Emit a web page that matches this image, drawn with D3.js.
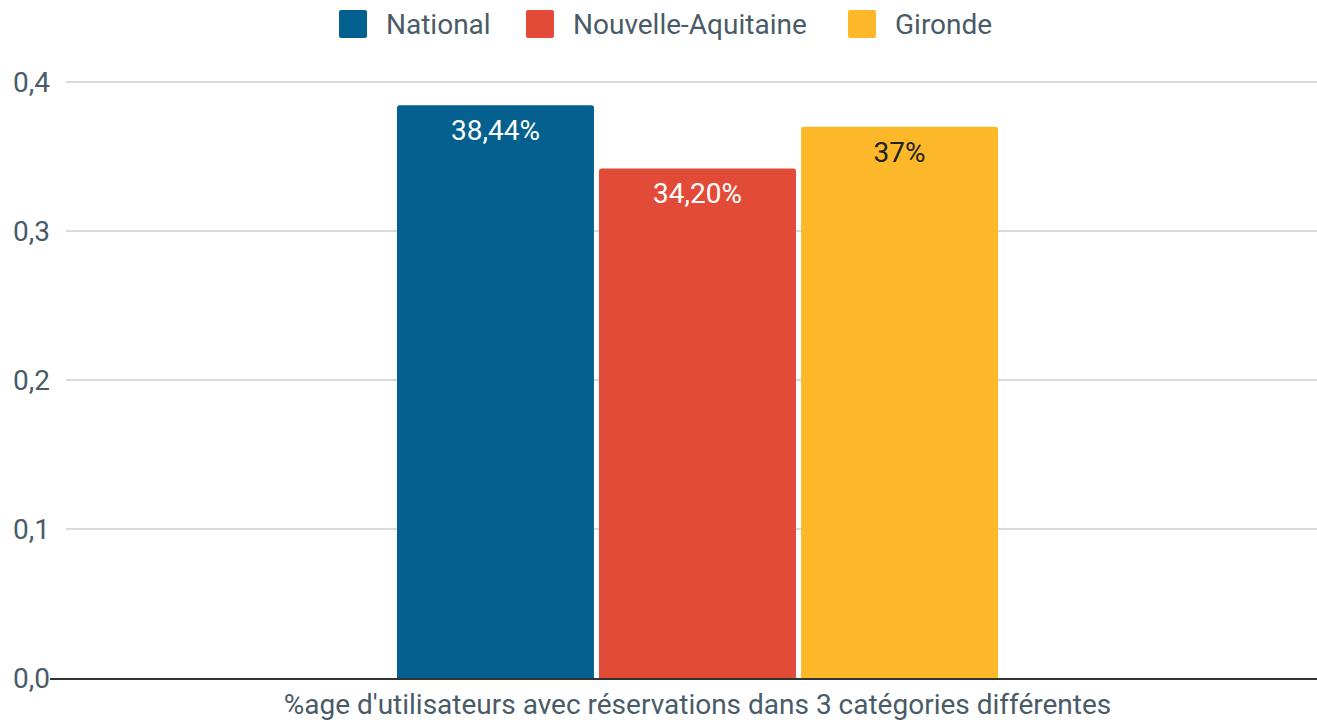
<!DOCTYPE html>
<html lang="fr">
<head>
<meta charset="UTF-8">
<title>Réservations</title>
<script src="https://cdn.jsdelivr.net/npm/d3@7"></script>
<style>
  body { margin: 0; background: #fff; }
  text { font-family: Roboto, sans-serif; }
</style>
</head>
<body>
<script>
// data
var series = ['National', 'Nouvelle-Aquitaine', 'Gironde'];
var values = [0.3844, 0.342, 0.37];
var labels = ['38,44%', '34,20%', '37%'];
var colors = ['#03608f', '#e24b37', '#fdb829'];
var labelColors = ['#ffffff', '#ffffff', '#222222'];
var category = "%age d'utilisateurs avec réservations dans 3 catégories différentes";
var yTicks = [0, 0.1, 0.2, 0.3, 0.4];

var W = 1317, H = 720;
var margin = {top: 82, right: 0, bottom: 42, left: 66};
var width = W - margin.left - margin.right,
    height = H - margin.top - margin.bottom;
var textColor = '#4a5b68';
var fs = '28px';

var svg = d3.select('body').append('svg')
  .attr('width', W)
  .attr('height', H);

var g = svg.append('g')
  .attr('transform', 'translate(' + margin.left + ',' + margin.top + ')');

var y = d3.scaleLinear().domain([0, 0.4]).range([height, 0]);

var x0 = d3.scaleBand().domain([category]).range([0, width + 12]).paddingInner(0).paddingOuter(0.5507);
var x1 = d3.scaleBand().domain(series).range([0, x0.bandwidth()]).paddingInner(0.025);

// gridlines
g.selectAll('.grid')
  .data(yTicks.slice(1))
  .enter().append('line')
  .attr('x1', 0).attr('x2', width)
  .attr('y1', function(d) { return y(d); })
  .attr('y2', function(d) { return y(d); })
  .attr('stroke', '#cccccc')
  .attr('stroke-width', 1.5);

// y labels
g.selectAll('.ylab')
  .data(yTicks)
  .enter().append('text')
  .attr('x', -16)
  .attr('y', function(d) { return y(d); })
  .attr('dy', '0.35em')
  .attr('text-anchor', 'end')
  .style('font-size', fs)
  .style('fill', textColor)
  .text(function(d) { return d3.format('.1f')(d).replace('.', ','); });

// bars
var bars = g.append('g').attr('transform', 'translate(' + x0(category) + ',0)');
bars.selectAll('rect')
  .data(values)
  .enter().append('path')
  .attr('fill', function(d, i) { return colors[i]; })
  .attr('d', function(d, i) {
    var bx = x1(series[i]), bw = x1.bandwidth(), by = y(d), r = 2.5;
    return 'M' + bx + ',' + height +
      'V' + (by + r) + 'Q' + bx + ',' + by + ' ' + (bx + r) + ',' + by +
      'H' + (bx + bw - r) + 'Q' + (bx + bw) + ',' + by + ' ' + (bx + bw) + ',' + (by + r) +
      'V' + height + 'Z';
  });

bars.selectAll('.val')
  .data(values)
  .enter().append('text')
  .attr('x', function(d, i) { return x1(series[i]) + x1.bandwidth() / 2; })
  .attr('y', function(d) { return y(d) + 35; })
  .attr('text-anchor', 'middle')
  .style('font-size', fs)
  .style('fill', function(d, i) { return labelColors[i]; })
  .text(function(d, i) { return labels[i]; });

// x axis line
g.append('line')
  .attr('x1', -16).attr('x2', width)
  .attr('y1', height + 1).attr('y2', height + 1)
  .attr('stroke', '#333333')
  .attr('stroke-width', 2);

g.append('text')
  .attr('x', x0(category) + x0.bandwidth() / 2)
  .attr('y', height + 36)
  .attr('text-anchor', 'middle')
  .style('font-size', fs)
  .style('fill', textColor)
  .text(category);

// legend
var legendX = [339, 526, 848];
var legend = svg.selectAll('.legend')
  .data(series)
  .enter().append('g')
  .attr('transform', function(d, i) { return 'translate(' + legendX[i] + ',10)'; });

legend.append('rect')
  .attr('width', 28).attr('height', 28)
  .attr('rx', 2)
  .attr('fill', function(d, i) { return colors[i]; });

legend.append('text')
  .attr('x', 47)
  .attr('y', 14)
  .attr('dy', '0.35em')
  .style('font-size', fs)
  .style('fill', textColor)
  .text(function(d) { return d; });
</script>
</body>
</html>
